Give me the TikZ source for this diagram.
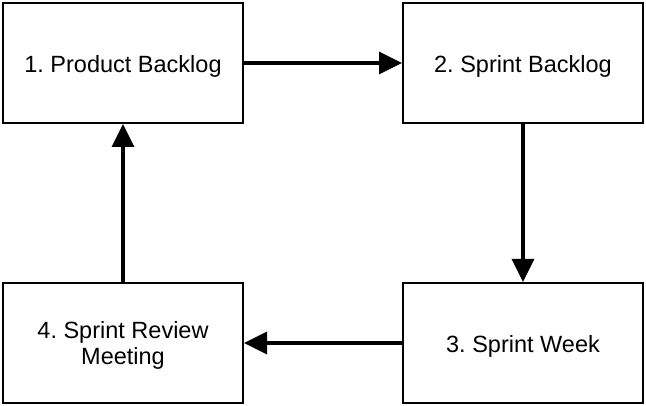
\documentclass[tikz,border=0pt]{standalone}
\usepackage{fontspec}
\setmainfont{Liberation Sans}
\usetikzlibrary{arrows.meta}
\begin{document}
\frenchspacing
\begin{tikzpicture}[x=1pt,y=-1pt,
  stepbox/.style={draw=black, line width=2pt, minimum width=240pt, minimum height=120pt, inner sep=0pt},
  steptext/.style={align=center, inner sep=0pt, font=\fontsize{23.5}{26}\selectfont},
  flow/.style={line width=3.5pt, -{Triangle[length=23pt,width=22pt]}}]
\useasboundingbox (0,0) rectangle (646,406);
\node[stepbox] (b1) at (123,63) {};
\node[stepbox] (b2) at (523,63) {};
\node[stepbox] (b3) at (523,343) {};
\node[stepbox] (b4) at (123,343) {};
\node[steptext] (t1) at ([yshift=-3pt]b1.center) {1. Product Backlog};
\node[steptext] (t2) at ([yshift=-3pt]b2.center) {2. Sprint Backlog};
\node[steptext] (t3) at ([yshift=-3pt]b3.center) {3. Sprint Week};
\node[steptext] (t4) at ([yshift=-2pt]b4.center) {4. Sprint Review\\Meeting};
\draw[flow] (b1.east) -- (b2.west);
\draw[flow] (b2.south) -- (b3.north);
\draw[flow] (b3.west) -- (b4.east);
\draw[flow] (b4.north) -- (b1.south);
\end{tikzpicture}
\end{document}
